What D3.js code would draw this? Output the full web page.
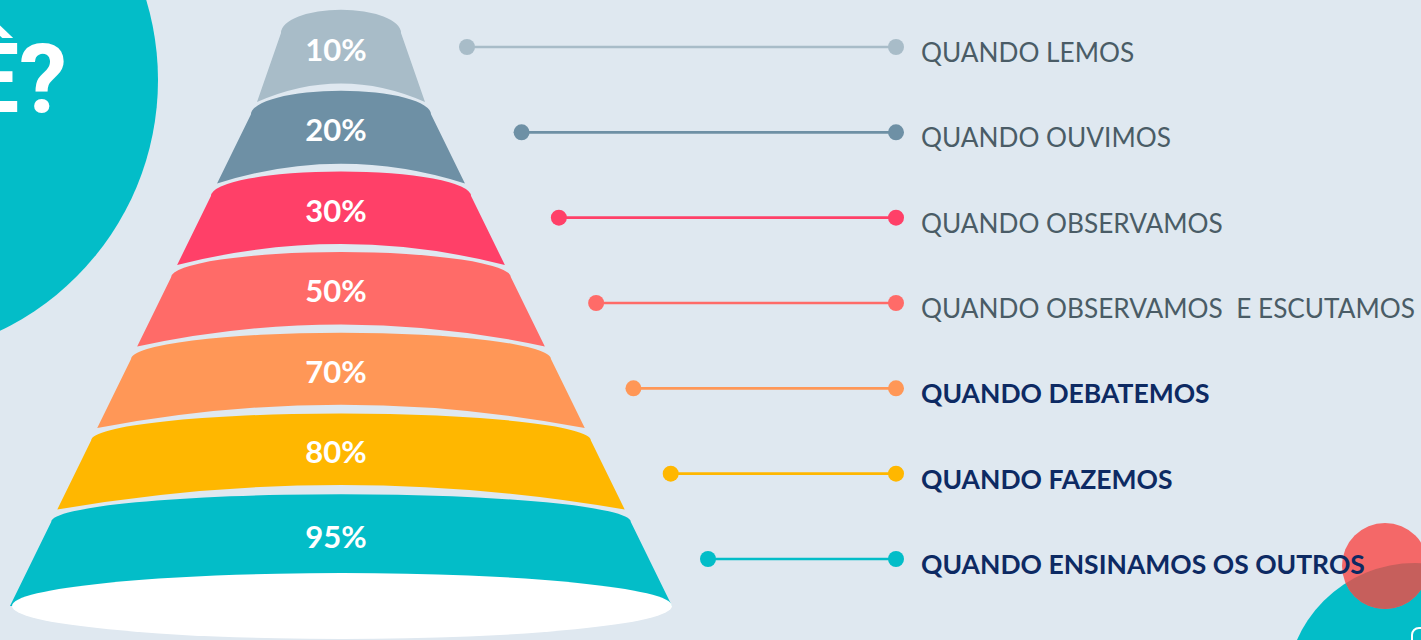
<!DOCTYPE html>
<html><head><meta charset="utf-8">
<script src="https://cdn.jsdelivr.net/npm/d3@7"></script>
<style>
html,body{margin:0;padding:0;background:#dfe8f0;overflow:hidden;}
svg{display:block;}
</style></head>
<body>
<script>
// ---- data ----
const categories = [
  "QUANDO LEMOS",
  "QUANDO OUVIMOS",
  "QUANDO OBSERVAMOS",
  "QUANDO OBSERVAMOS  E ESCUTAMOS",
  "QUANDO DEBATEMOS",
  "QUANDO FAZEMOS",
  "QUANDO ENSINAMOS OS OUTROS"
];
const values = [10, 20, 30, 50, 70, 80, 95];
const valueLabels = values.map(v => v + "%");
const title = "VOCÊ?";

// ---- layout ----
const W = 1421, H = 640;
const svg = d3.select("body").append("svg").attr("width", W).attr("height", H);
svg.append("rect").attr("width", W).attr("height", H).attr("fill", "#dfe8f0");

const color = d3.scaleOrdinal().domain(categories)
  .range(["#a8bcc8", "#6e90a5", "#ff4068", "#ff6b68", "#ff9757", "#ffb700", "#03bdc8"]);

// decorative circles
svg.append("circle").attr("cx", -120).attr("cy", 80).attr("r", 278).attr("fill", "#03bdc8");
svg.append("text").attr("x", 67).attr("y", 112).attr("text-anchor", "end")
  .attr("font-family", "Roboto, 'Open Sans', sans-serif").attr("font-weight", 700)
  .attr("font-size", 96).attr("fill", "#ffffff").text(title);

const defs = svg.append("defs");
defs.append("clipPath").attr("id", "tealclip").append("circle")
  .attr("cx", 1415).attr("cy", 692).attr("r", 129);
svg.append("circle").attr("cx", 1415).attr("cy", 692).attr("r", 129).attr("fill", "#03bdc8");
svg.append("circle").attr("cx", 1385).attr("cy", 566).attr("r", 43).attr("fill", "#f46868");
svg.append("circle").attr("cx", 1385).attr("cy", 566).attr("r", 43).attr("fill", "#c65f5c")
  .attr("clip-path", "url(#tealclip)");
svg.append("rect").attr("x", 1412).attr("y", 628).attr("width", 30).attr("height", 30).attr("rx", 7)
  .attr("fill", "none").attr("stroke", "#ffffff").attr("stroke-width", 2);

// funnel scales
const cx = 341;
const idx = d3.scaleLinear().domain([0, categories.length - 1]).range([33, 522]);
const layerH = 69;
const baseY = 606;
const hw = d3.scaleLinear().domain([33, 102, baseY]).range([60, 84, 331]);

const layers = categories.map((c, i) => {
  const top = idx(i);
  const last = i === categories.length - 1;
  const bot = last ? baseY : top + layerH;
  const hwT = hw(top), hwB = hw(bot);
  const sagT = 22 + 0.02 * hwT;
  const sagB = 16 + 0.03 * hwB;
  return {c, i, v: values[i], label: valueLabels[i], top, bot, hwT, hwB, sagT, sagB, last};
});

const g = svg.append("g");
g.selectAll("path.layer").data(layers).join("path").attr("class", "layer")
  .attr("fill", d => color(d.c))
  .attr("d", d => {
    let s = `M${cx - d.hwT},${d.top} A${d.hwT},${d.sagT} 0 0 1 ${cx + d.hwT},${d.top} L${cx + d.hwB},${d.bot} `;
    if (d.last) s += `L${cx - d.hwB},${d.bot} Z`;
    else s += `Q${cx},${d.bot - 2 * d.sagB} ${cx - d.hwB},${d.bot} Z`;
    return s;
  });

// base ellipse
g.append("ellipse").attr("cx", cx + 1).attr("cy", baseY).attr("rx", 330).attr("ry", 33).attr("fill", "#ffffff");

g.selectAll("text.pct").data(layers).join("text").attr("class", "pct")
  .attr("x", cx - 5)
  .attr("y", d => {
    const tm = d.top - d.sagT;
    const bm = d.last ? baseY - 33 : d.bot - d.sagB;
    return (tm + bm) / 2 + 2;
  })
  .attr("text-anchor", "middle").attr("dominant-baseline", "central")
  .attr("font-family", "Lato, sans-serif").attr("font-weight", 700).attr("font-size", 31)
  .attr("fill", "#ffffff").text(d => d.label);

// connectors
const cy = d3.scaleLinear().domain([0, categories.length - 1]).range([47, 559]);
const leftX = d3.scaleLinear().domain([47, 131, 559]).range([467, 521, 708]);
const rightX = 896;
const conn = svg.append("g").selectAll("g").data(layers).join("g");
conn.append("line")
  .attr("x1", d => leftX(cy(d.i))).attr("x2", rightX)
  .attr("y1", d => cy(d.i)).attr("y2", d => cy(d.i))
  .attr("stroke", d => color(d.c)).attr("stroke-width", 2.6);
conn.append("circle").attr("cx", d => leftX(cy(d.i))).attr("cy", d => cy(d.i)).attr("r", 8)
  .attr("fill", d => color(d.c));
conn.append("circle").attr("cx", rightX).attr("cy", d => cy(d.i)).attr("r", 8)
  .attr("fill", d => color(d.c));
conn.append("text").attr("x", 921).attr("y", d => cy(d.i) + 5)
  .attr("dominant-baseline", "central")
  .attr("font-family", "Lato, sans-serif")
  .attr("font-size", d => d.v >= 70 ? 26.5 : 26.2)
  .attr("font-weight", d => d.v >= 70 ? 700 : 400)
  .attr("fill", d => d.v >= 70 ? "#0d2a63" : "#4a5c66")
  .style("white-space", "pre")
  .text(d => d.c);
</script>
</body></html>
